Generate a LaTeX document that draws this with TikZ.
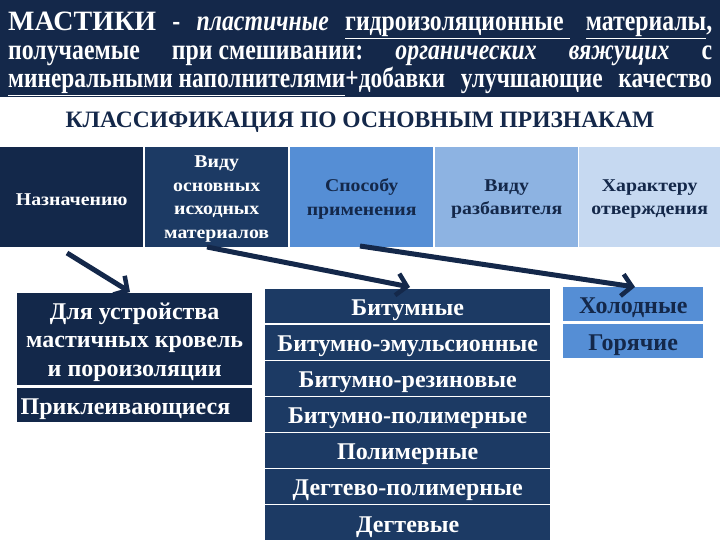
\documentclass[tikz,border=0pt]{standalone}
\usepackage{fontspec}
\setmainfont{Liberation Serif}
\newfontfamily\hdrf[FakeStretch=0.82]{Liberation Serif}
\newfontfamily\widf[FakeStretch=1.1]{Liberation Serif}
\usetikzlibrary{arrows.meta}
\definecolor{hdr}{HTML}{14284A}
\definecolor{cA}{HTML}{13284A}
\definecolor{cB}{HTML}{1C3A64}
\definecolor{cC}{HTML}{558ED5}
\definecolor{cD}{HTML}{8DB3E2}
\definecolor{cE}{HTML}{C6D9F1}
\definecolor{txt}{HTML}{14284A}
\definecolor{mid}{HTML}{1C3A64}
\tikzset{
  topbox/.style={anchor=north west, minimum width=143pt, minimum height=100pt, inner sep=1pt, align=center, text depth=-1pt, font=\widf\fontsize{18}{23.5}\selectfont\bfseries},
  colbox/.style={anchor=north west, fill=mid, text=white, minimum width=285pt, inner sep=0pt, align=center, font=\fontsize{24}{28.5}\selectfont\bfseries},
  oneline/.style={text height=20pt, text depth=1pt},
  rbox/.style={anchor=north west, fill=cC, text=txt, minimum width=140pt, minimum height=34pt, inner sep=0pt, align=center, oneline, font=\fontsize{24}{28}\selectfont\bfseries},
  hline/.style={anchor=base west, inner sep=0pt, text=white},
  arr/.style={line width=5pt, draw=hdr, -{Straight Barb[length=10pt,width=22pt,line width=4.5pt]}},
}
\begin{document}
\begin{tikzpicture}[x=1pt,y=-1pt]
\useasboundingbox (0,0) rectangle (720,540);
\fill[hdr] (0,0) rectangle (720,97.5);
% header
\node[hline] (h1) at (8,31) {\hbox to 704pt{\fontsize{28}{30}\selectfont\bfseries МАСТИКИ\hfill\hdrf\fontsize{29}{30}\selectfont\bfseries -\hfill\itshape пластичные\hfill\upshape\underline{гидроизоляционные\ }\hfill\underline{материалы},}};
\node[hline] (h2) at (8,60) {\hbox to 704pt{\hdrf\fontsize{29}{30}\selectfont\bfseries получаемые\hfill при смешивании:\hfill\itshape органических\hfill вяжущих\hfill\upshape с}};
\node[hline] (h3) at (8,87.5) {\hbox to 704pt{\hdrf\fontsize{28.5}{30}\selectfont\bfseries \underline{минеральными наполнителями}+добавки улучшающие качество}};
% title
\node[text=txt, font=\fontsize{23.5}{26}\selectfont\bfseries] (title) at (360,122) {КЛАССИФИКАЦИЯ ПО ОСНОВНЫМ ПРИЗНАКАМ};
% top row
\node[topbox, fill=cA, text=white, text height=17pt, text depth=1pt] (n1) at (0,147) {Назначению};
\node[topbox, fill=cB, text=white] (n2) at (145,147) {Виду\\основных\\исходных\\материалов};
\node[topbox, fill=cC, text=txt] (n3) at (290,147) {Способу\\применения};
\node[topbox, fill=cD, text=txt] (n4) at (435,147) {Виду\\разбавителя};
\node[topbox, fill=cE, text=txt, minimum width=141pt] (n5) at (579,147) {Характеру\\отверждения};
% left column
\node[colbox, fill=cA, minimum width=235pt, minimum height=92pt] (l1) at (17,293) {};
\node[text=white, align=center, inner sep=0pt, font=\fontsize{24}{28.5}\selectfont\bfseries] (l1t) at ([yshift=-3pt]l1.center) {Для устройства\\мастичных кровель\\и порoизоляции};
\node[colbox, oneline, fill=cA, minimum width=235pt, minimum height=34pt, align=left, text width=228pt] (l2) at (17,388) {Приклеивающиеся};
% middle column
\node[colbox, oneline, minimum height=33.5pt] (b1) at (265,289) {Битумные};
\node[colbox, oneline, minimum height=34.5pt] (b2) at (265,325) {Битумно-эмульсионные};
\node[colbox, oneline, minimum height=34.5pt] (b3) at (265,361) {Битумно-резиновые};
\node[colbox, oneline, minimum height=34.5pt] (b4) at (265,397) {Битумно-полимерные};
\node[colbox, oneline, minimum height=34.5pt] (b5) at (265,433) {Полимерные};
\node[colbox, oneline, minimum height=34.5pt] (b6) at (265,469) {Дегтево-полимерные};
\node[colbox, oneline, minimum height=35pt] (b7) at (265,505) {Дегтевые};
% right column
\node[rbox] (r1) at (563,287) {Холодные};
\node[rbox] (r2) at (563,324) {Горячие};
% arrows
\coordinate (s1) at (67,253);
\coordinate (t1) at (130,292);
\coordinate (s2) at (207,247);
\coordinate (t2) at (410,287);
\coordinate (s3) at (360,246);
\coordinate (t3) at (635,287);
\draw[arr] (s1) -- (t1);
\draw[arr] (s2) -- (t2);
\draw[arr] (s3) -- (t3);
\end{tikzpicture}
\end{document}
